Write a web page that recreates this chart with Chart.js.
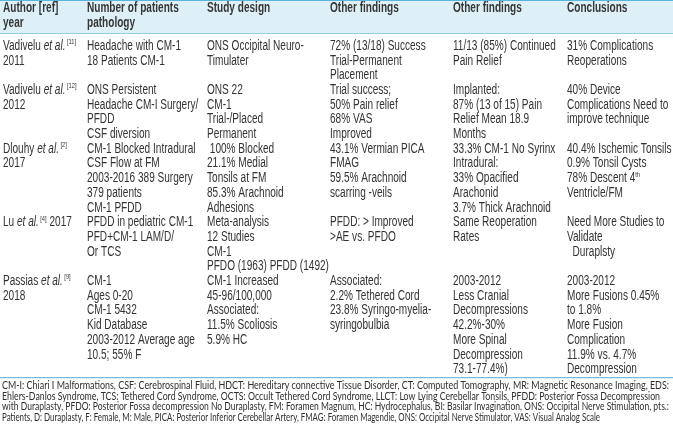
<!DOCTYPE html>
<html>
<head>
<meta charset="utf-8">
<script src="https://cdn.jsdelivr.net/npm/chart.js@4"></script>
<style>
  html, body { margin: 0; padding: 0; background: #fff; }
  canvas { display: block; }
</style>
</head>
<body>
<canvas id="myChart" width="673" height="424"></canvas>
<script>
// En-têtes du tableau
const headers = [
    ["Author [ref]", "year"],
    ["Number of patients", "pathology"],
    ["Study design"],
    ["Other findings"],
    ["Other findings"],
    ["Conclusions"]
];

// Une liste par colonne, une entrée par étude (lignes de texte)
// *...* = italique, ^{...} = exposant
const authors = [
    ["Vadivelu *et al.*^{[11]}", "2011"],
    ["Vadivelu *et al.*^{[12]}", "2012"],
    ["Dlouhy *et al.*^{[2]}", "2017"],
    ["Lu *et al.*^{[4]} 2017"],
    ["Passias *et al.*^{[9]}", "2018"]
];
const patients = [
    ["Headache with CM-1", "18 Patients CM-1"],
    ["ONS Persistent", "Headache CM-I Surgery/", "PFDD", "CSF diversion"],
    ["CM-1 Blocked Intradural", "CSF Flow at FM", "2003-2016 389 Surgery", "379 patients", "CM-1 PFDD"],
    ["PFDD in pediatric CM-1", "PFD+CM-1 LAM/D/", "Or TCS"],
    ["CM-1", "Ages 0-20", "CM-1 5432", "Kid Database", "2003-2012 Average age", "10.5; 55% F"]
];
const studyDesign = [
    ["ONS Occipital Neuro-", "Timulater"],
    ["ONS 22", "CM-1", "Trial-/Placed", "Permanent"],
    [" 100% Blocked", "21.1% Medial", "Tonsils at FM", "85.3% Arachnoid", "Adhesions"],
    ["Meta-analysis", "12 Studies", "CM-1", "PFDO (1963) PFDD (1492)"],
    ["CM-1 Increased", "45-96/100,000", "Associated:", "11.5% Scoliosis", "5.9% HC"]
];
const findingsA = [
    ["72% (13/18) Success", "Trial-Permanent", "Placement"],
    ["Trial success;", "50% Pain relief", "68% VAS", "Improved"],
    ["43.1% Vermian PICA", "FMAG", "59.5% Arachnoid", "scarring -veils"],
    ["PFDD: > Improved", ">AE vs. PFDO"],
    ["Associated:", "2.2% Tethered Cord", "23.8% Syringo-myelia-", "syringobulbia"]
];
const findingsB = [
    ["11/13 (85%) Continued", "Pain Relief"],
    ["Implanted:", "87% (13 of 15) Pain", "Relief Mean 18.9", "Months"],
    ["33.3% CM-1 No Syrinx", "Intradural:", "33% Opacified", "Arachonid", "3.7% Thick Arachnoid"],
    ["Same Reoperation", "Rates"],
    ["2003-2012", "Less Cranial", "Decompressions", "42.2%-30%", "More Spinal", "Decompression", "73.1-77.4%)"]
];
const conclusions = [
    ["31% Complications", "Reoperations"],
    ["40% Device", "Complications Need to", "improve technique"],
    ["40.4% Ischemic Tonsils", "0.9% Tonsil Cysts", "78% Descent 4^{th}", "Ventricle/FM"],
    ["Need More Studies to", "Validate", "  Duraplsty"],
    ["2003-2012", "More Fusions 0.45%", "to 1.8%", "More Fusion", "Complication", "11.9% vs. 4.7%", "Decompression"]
];

// Note de bas de tableau
const footnote = [
    "CM-I: Chiari I Malformations, CSF: Cerebrospinal Fluid, HDCT: Hereditary connective Tissue Disorder, CT: Computed Tomography, MR: Magnetic Resonance Imaging, EDS:",
    "Ehlers-Danlos Syndrome, TCS: Tethered Cord Syndrome, OCTS: Occult Tethered Cord Syndrome, LLCT: Low Lying Cerebellar Tonsils, PFDD: Posterior Fossa Decompression",
    "with Duraplasty, PFDO: Posterior Fossa decompression No Duraplasty, FM: Foramen Magnum, HC: Hydrocephalus, BI: Basilar Invagination, ONS: Occipital Nerve Stimulation, pts.:",
    "Patients, D: Duraplasty, F: Female, M: Male, PICA: Posterior Inferior Cerebellar Artery, FMAG: Foramen Magendie, ONS: Occipital Nerve Stimulator, VAS: Visual Analog Scale"
];

const columns = [authors, patients, studyDesign, findingsA, findingsB, conclusions];

// Mise en page (unités des axes : x en px, y en lignes de texte)
const layout = {
    colX: [3, 87, 207, 330, 453, 567],
    headerLines: [-2.58, -1.56],
    headerBand: [-3.10, -0.88],
    footRule: 22.52,
    footFirst: 23.1,
    footStep: 0.715,
    footWidths: [667, 658, 667, 598],
    refText: 'Headache with CM-1',   // largeur mesurée sur l'image
    refWidth: 94
};

const bodyFont = "'Liberation Sans', Arial, sans-serif";
const footFont = "Lato, 'Open Sans', sans-serif";
const bodySize = 14;
let hScale = 1;

// Dessine une ligne avec italique / exposant, police condensée
function drawRich(ctx, text, x, y, size, bold) {
    const parts = text.split(/(\*[^*]+\*|\^\{[^}]+\})/).filter(p => p.length);
    let cx = 0, prevItalic = false;
    ctx.save();
    ctx.translate(x, y);
    ctx.scale(hScale, 1);
    parts.forEach(p => {
        let t = p, font = (bold ? 'bold ' : '') + size + 'px ' + bodyFont, dy = 0;
        let italic = false;
        if (p.startsWith('*')) {
            t = p.slice(1, -1);
            font = 'italic ' + size + 'px ' + bodyFont;
            italic = true;
        } else if (p.startsWith('^{')) {
            t = p.slice(2, -1);
            font = Math.round(size * 0.6) + 'px ' + bodyFont;
            dy = -4;
            if (prevItalic) cx += 2;
        }
        ctx.font = font;
        ctx.fillText(t, cx, dy);
        cx += ctx.measureText(t).width;
        prevItalic = italic;
    });
    ctx.restore();
}

const tablePlugin = {
    id: 'tablePlugin',
    afterDraw(chart) {
        const ctx = chart.ctx;
        const xs = chart.scales.x, ys = chart.scales.y;
        const W = chart.width;
        ctx.save();

        ctx.font = bodySize + 'px ' + bodyFont;
        hScale = layout.refWidth / ctx.measureText(layout.refText).width;

        // bande d'en-tête
        const bTop = ys.getPixelForValue(layout.headerBand[0]);
        const bBot = ys.getPixelForValue(layout.headerBand[1]);
        ctx.fillStyle = '#ddf0f8';
        ctx.fillRect(0, bTop, W, bBot - bTop);
        ctx.fillStyle = '#4fb0d9';
        ctx.fillRect(0, bTop - 1, W, 1.5);
        ctx.fillStyle = '#8fcbe6';
        ctx.fillRect(0, bBot, W, 1);

        ctx.textBaseline = 'middle';
        ctx.fillStyle = '#363636';
        headers.forEach((lines, c) => {
            lines.forEach((t, i) => {
                drawRich(ctx, t, xs.getPixelForValue(layout.colX[c]), ys.getPixelForValue(layout.headerLines[i]), bodySize, true);
            });
        });

        // corps : chaque étude commence après la plus longue cellule précédente
        ctx.fillStyle = '#333333';
        let start = 0;
        for (let r = 0; r < authors.length; r++) {
            let maxLines = 0;
            columns.forEach((col, c) => {
                const cell = col[r];
                maxLines = Math.max(maxLines, cell.length);
                cell.forEach((t, i) => {
                    drawRich(ctx, t, xs.getPixelForValue(layout.colX[c]), ys.getPixelForValue(start + i), bodySize, false);
                });
            });
            start += maxLines;
        }

        // filet et note
        const fy = ys.getPixelForValue(layout.footRule);
        ctx.fillStyle = '#6dbbe0';
        ctx.fillRect(0, fy, W, 1.2);
        ctx.fillStyle = '#2e2e2e';
        ctx.font = '11.5px ' + footFont;
        footnote.forEach((t, i) => {
            ctx.fillText(t, 2, ys.getPixelForValue(layout.footFirst + i * layout.footStep), layout.footWidths[i]);
        });
        ctx.restore();
    }
};

const ctx = document.getElementById('myChart').getContext('2d');
new Chart(ctx, {
    type: 'scatter',
    data: { datasets: [{ data: [], pointRadius: 0 }] },
    options: {
        responsive: false,
        animation: false,
        layout: { padding: 0 },
        plugins: { legend: { display: false }, tooltip: { enabled: false } },
        scales: {
            x: { type: 'linear', display: false, min: 0, max: 673 },
            y: { type: 'linear', display: false, min: -3.129, max: 25.714, reverse: true }
        }
    },
    plugins: [tablePlugin]
});
</script>
</body>
</html>
